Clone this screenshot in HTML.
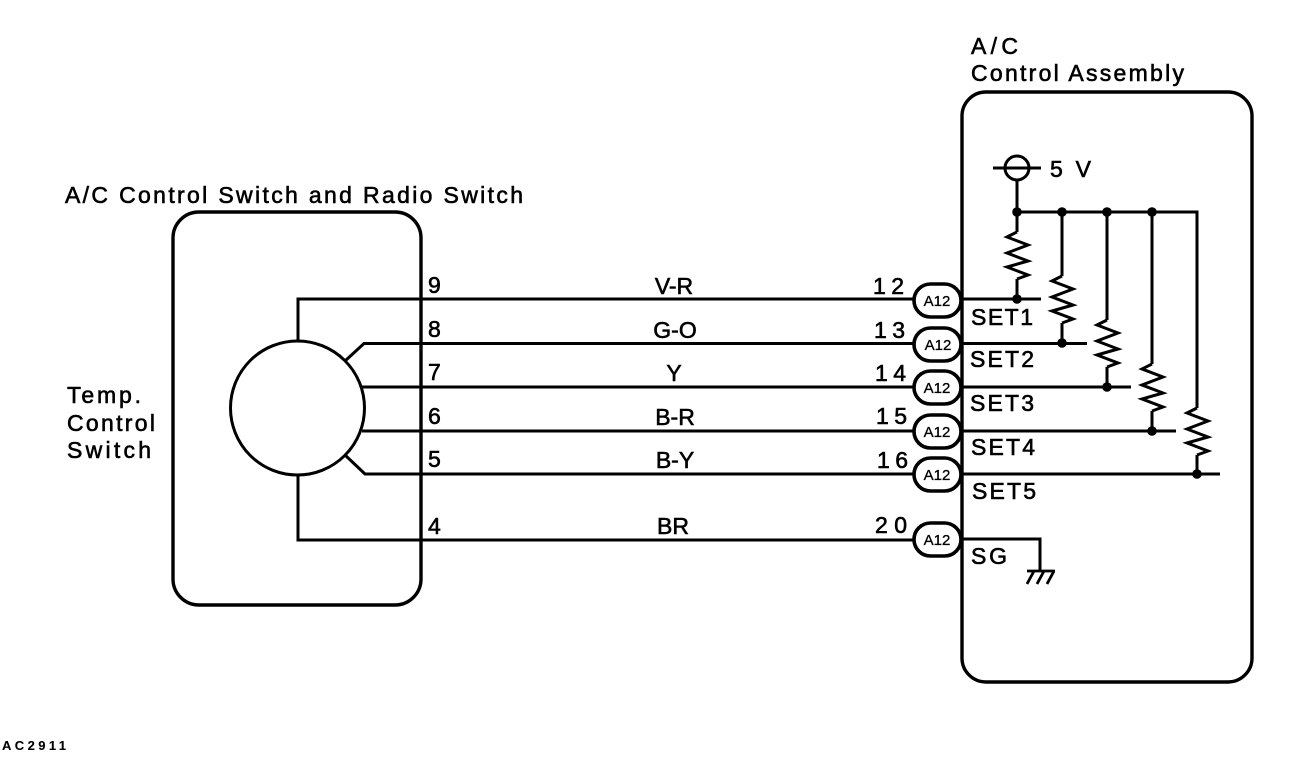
<!DOCTYPE html>
<html><head><meta charset="utf-8"><style>
html,body{margin:0;padding:0;background:#fff}
svg{display:block}
text{font-family:"Liberation Sans",sans-serif;font-size:23px;fill:#000;stroke:#000;stroke-width:.6}
.s{font-size:15px;stroke-width:.3}
.w{fill:none;stroke:#000;stroke-width:3;stroke-linejoin:miter}
</style></head><body>
<svg width="1312" height="760" viewBox="0 0 1312 760" xmlns="http://www.w3.org/2000/svg">
<rect width="1312" height="760" fill="#fff"/>
<g class="w">
<rect x="173" y="212" width="248" height="393" rx="26" stroke-width="3.4"/>
<rect x="962" y="92" width="290" height="590" rx="24" stroke-width="3.4"/>
<circle cx="297.500" cy="408" r="67"/>
<path d="M298 342V299H913M345 361L364 343.500H913M362 387H913M362 431H913M345 455L365 474H913M298 474V540H913"/>
<path d="M962 299H1041M962 343.500H1087M962 387H1131M962 431H1176M962 474H1220M962 539H1040V571"/>
<path d="M993 168H1041M1017 180V232M1017 279V299M1017 212H1197V408M1197 455V474M1062 212V276M1062 323V343M1107 212V320M1107 367V387M1152 212V364M1152 411V431"/>
<circle cx="1017" cy="168" r="12"/>
<path d="M1027 571H1055M1034 571L1027 584M1044 571L1037 584M1054 571L1047 584" stroke-width="2.800"/>
<path d="M1017 232L1007 237L1028 245L1007 253L1028 261L1007 267L1028 275L1017 279"/>
<path d="M1062 276L1052 281L1073 289L1052 297L1073 305L1052 311L1073 319L1062 323"/>
<path d="M1107 320L1097 325L1118 333L1097 341L1118 349L1097 355L1118 363L1107 367"/>
<path d="M1152 364L1142 369L1163 377L1142 385L1163 393L1142 399L1163 407L1152 411"/>
<path d="M1197 408L1187 413L1208 421L1187 429L1208 437L1187 443L1208 451L1197 455"/>
</g>
<g fill="#000">
<circle cx="1017" cy="212" r="4.800"/><circle cx="1062" cy="212" r="4.800"/><circle cx="1107" cy="212" r="4.800"/><circle cx="1152" cy="212" r="4.800"/>
<circle cx="1017" cy="299" r="4.800"/><circle cx="1062" cy="343" r="4.800"/><circle cx="1107" cy="387" r="4.800"/><circle cx="1152" cy="431" r="4.800"/><circle cx="1197" cy="474" r="4.800"/>
</g>
<g fill="#fff" stroke="#000" stroke-width="3.600">
<rect x="914" y="284" width="47" height="33" rx="16.500"/>
<rect x="914" y="328" width="47" height="33" rx="16.500"/>
<rect x="914" y="371" width="47" height="33" rx="16.500"/>
<rect x="914" y="415" width="47" height="33" rx="16.500"/>
<rect x="914" y="458" width="47" height="33" rx="16.500"/>
<rect x="914" y="523" width="47" height="33" rx="16.500"/>
</g>
<g text-anchor="middle">
<text class="s" x="937" y="306">A12</text><text class="s" x="938" y="350">A12</text><text class="s" x="937" y="393">A12</text><text class="s" x="937" y="437">A12</text><text class="s" x="937" y="480">A12</text><text class="s" x="937" y="545">A12</text>
</g>
<text x="971" y="54" textLength="47">A/C</text>
<text x="971" y="81" textLength="213">Control Assembly</text>
<text x="65" y="203" textLength="458">A/C Control Switch and Radio Switch</text>
<text x="67" y="403" textLength="74">Temp.</text>
<text x="67" y="431" textLength="88">Control</text>
<text x="67" y="458" textLength="84">Switch</text>
<text x="1050" y="177" textLength="41">5 V</text>
<text x="428" y="293">9</text><text x="428" y="337">8</text><text x="428" y="380">7</text><text x="428" y="424">6</text><text x="428" y="467">5</text><text x="428" y="534">4</text>
<g text-anchor="middle">
<text x="674" y="294">V-R</text><text x="675" y="338">G-O</text><text x="674" y="381">Y</text><text x="675" y="425">B-R</text><text x="675" y="468">B-Y</text><text x="673" y="534">BR</text>
</g>
<text x="873" y="294" textLength="31">12</text><text x="874" y="338" textLength="31">13</text><text x="875" y="381" textLength="31">14</text><text x="876" y="424" textLength="31">15</text><text x="877" y="468" textLength="31">16</text><text x="875" y="533" textLength="32">20</text>
<text x="971" y="325" textLength="62">SET1</text>
<text x="970" y="367" textLength="64">SET2</text>
<text x="970" y="411" textLength="64">SET3</text>
<text x="971" y="455" textLength="64">SET4</text>
<text x="972" y="499" textLength="64">SET5</text>
<text x="971" y="564" textLength="36">SG</text>
<text x="2" y="750" style="font-size:13px;font-weight:bold;stroke-width:.1" textLength="64">AC2911</text>
</svg>
</body></html>
